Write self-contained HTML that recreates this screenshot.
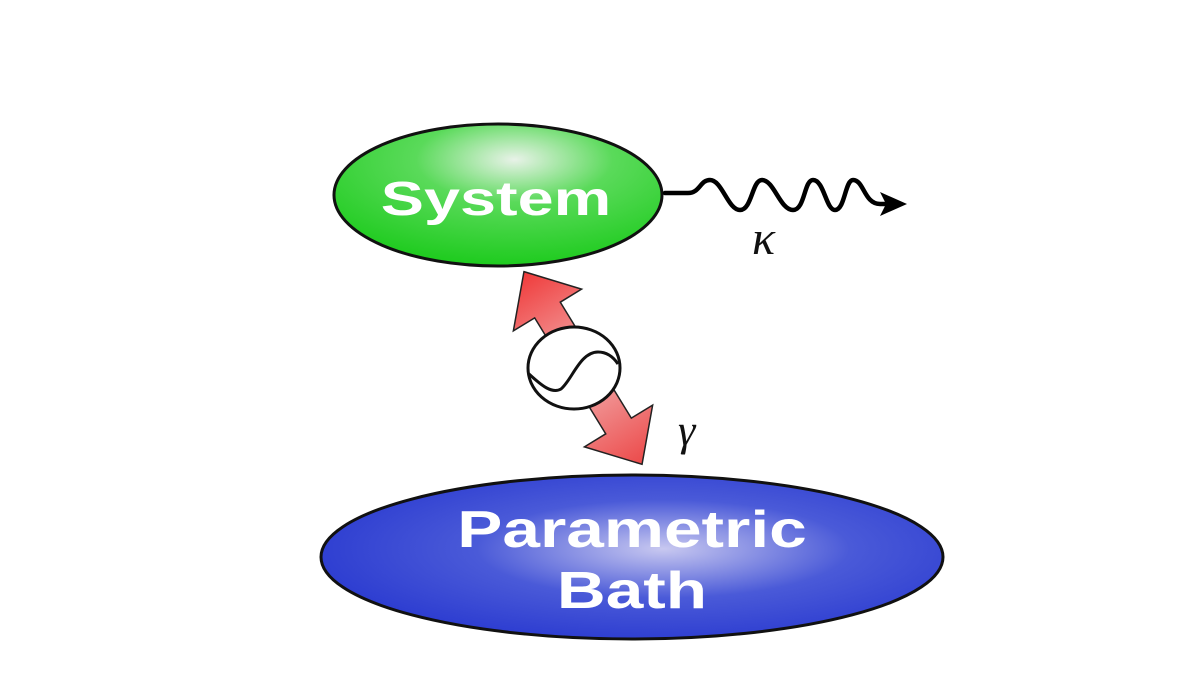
<!DOCTYPE html>
<html><head><style>
body{margin:0;background:#fff;}
</style></head><body>
<svg width="1200" height="675" viewBox="0 0 1200 675" xmlns="http://www.w3.org/2000/svg">
<defs>
<radialGradient id="g" cx="0.55" cy="0.25" r="0.75">
<stop offset="0" stop-color="#e8f2e8"/><stop offset="0.4" stop-color="#5ada5a"/><stop offset="1" stop-color="#1ecb1e"/>
</radialGradient>
<radialGradient id="b" cx="0.55" cy="0.45" r="0.6">
<stop offset="0" stop-color="#c8c8f0"/><stop offset="0.5" stop-color="#4a5ad8"/><stop offset="1" stop-color="#2a3ad0"/>
</radialGradient>
<linearGradient id="r" x1="0" y1="0" x2="1" y2="0">
<stop offset="0" stop-color="#f03a3a"/><stop offset="0.5" stop-color="#f2b0b0"/><stop offset="1" stop-color="#ec4a4a"/>
</linearGradient>
</defs>
<ellipse cx="498" cy="195" rx="164" ry="71" fill="url(#g)" stroke="#111" stroke-width="3"/>
<text transform="translate(496,215) scale(1.35,1)" text-anchor="middle" font-family="Liberation Sans, sans-serif" font-weight="bold" font-size="48" fill="#fff">System</text>
<ellipse cx="632" cy="557" rx="311" ry="82" fill="url(#b)" stroke="#111" stroke-width="3"/>
<text transform="translate(632,547) scale(1.3,1)" text-anchor="middle" font-family="Liberation Sans, sans-serif" font-weight="bold" font-size="52" fill="#fff">Parametric</text>
<text transform="translate(632,608) scale(1.3,1)" text-anchor="middle" font-family="Liberation Sans, sans-serif" font-weight="bold" font-size="52" fill="#fff">Bath</text>
<g transform="translate(583,368) rotate(58.5)">
<polygon points="-113,0 -68,-40 -68,-15 68,-15 68,-40 113,0 68,40 68,15 -68,15 -68,40" fill="url(#r)" stroke="#222" stroke-width="1.5"/>
</g>
<ellipse cx="574" cy="368" rx="46" ry="41" fill="#fff" stroke="#111" stroke-width="3"/>
<path d="M529,374 C542,386 552,394 561,389 C572,380 580,352 598,352 C608,352 614,358 618,364" fill="none" stroke="#111" stroke-width="3"/>
<text x="678" y="445" font-family="Liberation Serif, serif" font-style="italic" font-size="44" fill="#111">γ</text>
<path d="M665,193 L688,193 C700,193 700,180 710,180 C722,180 728,210 740,210 C752,210 752,180 762,180 C774,180 780,210 793,210 C805,210 804,180 813,180 C824,180 826,210 835,210 C845,210 845,180 853,180 C864,180 864,204 880,204 L895,204" fill="none" stroke="#000" stroke-width="4.5" stroke-linecap="round"/>
<polygon points="907,204 880,192 886,204 880,216" fill="#000"/>
<text x="752" y="254" font-family="Liberation Serif, serif" font-style="italic" font-size="48" fill="#111">κ</text>
</svg>
</body></html>
